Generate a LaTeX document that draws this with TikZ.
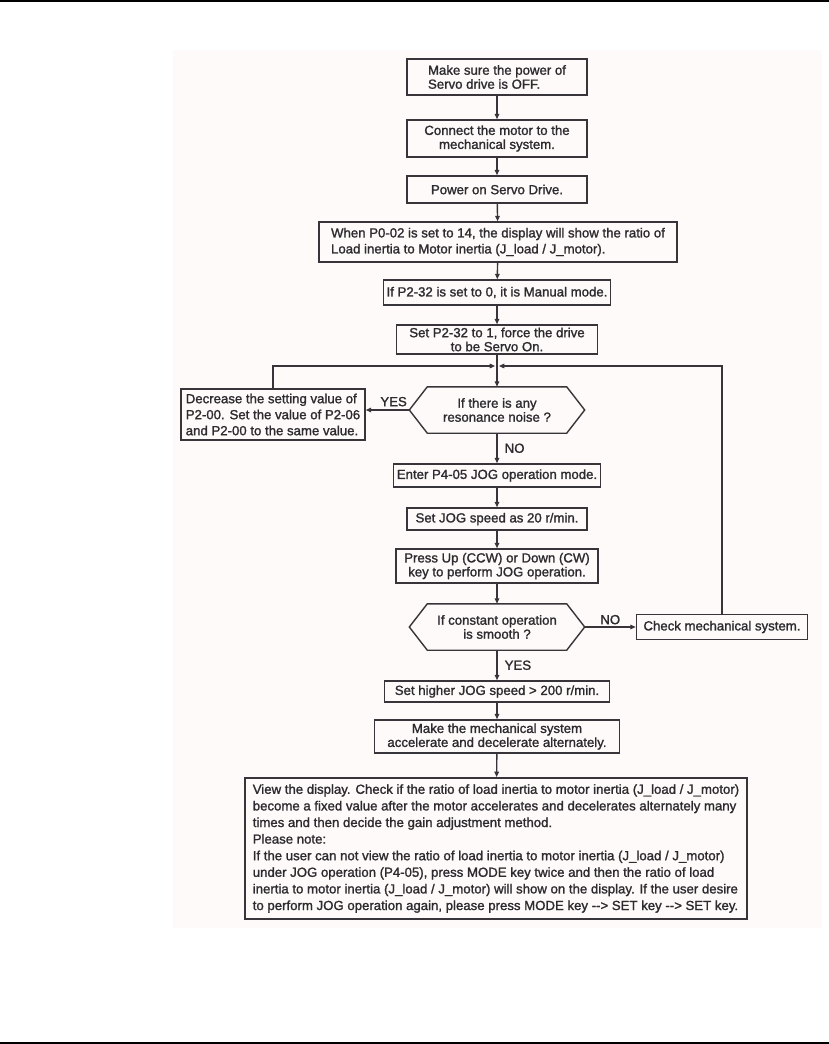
\documentclass[tikz,border=0pt]{standalone}
\usepackage{fontspec}
\setmainfont{Liberation Sans}[FakeBold=1.4]
\usetikzlibrary{arrows.meta}
\definecolor{ln}{RGB}{55,53,57}
\definecolor{tx}{RGB}{45,43,47}
\definecolor{bgp}{RGB}{253,250,249}
\begin{document}
\begin{tikzpicture}[x=1pt,y=-1pt,
  txt/.style={text=tx, font=\fontsize{13.2}{14}\selectfont},
  box/.style={txt, draw=ln, line width=1.4pt, inner sep=0pt, align=center},
  hexa/.style={txt, inner sep=0pt, align=center, minimum width=175, minimum height=46},
  hexline/.style={draw=ln, line width=1.4pt, line join=miter},
  arr/.style={draw=ln, line width=1.4pt, -{Triangle[length=5.5pt,width=4.5pt]}},
  lbl/.style={txt, inner sep=2pt}]
\useasboundingbox (0,0) rectangle (829,1044);
\fill[bgp] (173,50) rectangle (822,928);
\draw[line width=2pt] (0,1) -- (829,1);
\draw[line width=2pt] (0,1042.5) -- (829,1042.5);

% main column
\node[box, minimum width=180, minimum height=36, align=left] (b1) at (497,77) {Make sure the power of\\Servo drive is OFF.};
\node[box, minimum width=180, minimum height=37] (b2) at (497,138.5) {Connect the motor to the\\mechanical system.};
\node[box, minimum width=180, minimum height=27] (b3) at (497,189.5) {Power on Servo Drive.};
\node[box, minimum width=358, minimum height=40, align=left, font=\fontsize{13.2}{16}\selectfont] (b4) at (498,242) {When P0-02 is set to 14, the display will show the ratio of\\Load inertia to Motor inertia (J\_load / J\_motor).};
\node[box, minimum width=227, minimum height=25] (b5) at (497,292.5) {If P2-32 is set to 0, it is Manual mode.};
\node[box, minimum width=201, minimum height=29] (b6) at (497,339.5) {Set P2-32 to 1, force the drive\\to be Servo On.};
\coordinate (m) at (497,366);

\node[hexa] (d1) at (497,410) {If there is any\\resonance noise ?};
\draw[hexline] (d1.west) -- ([xshift=18]d1.north west) -- ([xshift=-18]d1.north east) -- (d1.east) -- ([xshift=-18]d1.south east) -- ([xshift=18]d1.south west) -- cycle;

\node[box, minimum width=184, minimum height=51, align=left, font=\fontsize{13.2}{16}\selectfont] (bl) at (273,414.5) {Decrease the setting value of\\P2-00. Set the value of P2-06\\and P2-00 to the same value.};

\node[box, minimum width=207, minimum height=23] (en) at (497,475.5) {Enter P4-05 JOG operation mode.};
\node[box, minimum width=180, minimum height=22] (sj) at (497,519) {Set JOG speed as 20 r/min.};
\node[box, minimum width=202, minimum height=34] (pu) at (497,566) {Press Up (CCW) or Down (CW)\\key to perform JOG operation.};

\node[hexa] (d2) at (497,627) {If constant operation\\is smooth ?};
\draw[hexline] (d2.west) -- ([xshift=18]d2.north west) -- ([xshift=-18]d2.north east) -- (d2.east) -- ([xshift=-18]d2.south east) -- ([xshift=18]d2.south west) -- cycle;

\node[box, minimum width=171, minimum height=25] (ck) at (722,627) {Check mechanical system.};

\node[box, minimum width=225, minimum height=21] (sh) at (497,691.5) {Set higher JOG speed > 200 r/min.};
\node[box, minimum width=245, minimum height=33] (mk) at (497,736.5) {Make the mechanical system\\accelerate and decelerate alternately.};

\node[box, line width=1.7pt, minimum width=502, minimum height=141, align=left, font=\fontsize{13.2}{16.6}\selectfont] (bb) at (496,848.5) {View the display. Check if the ratio of load inertia to motor inertia (J\_load / J\_motor)\\become a fixed value after the motor accelerates and decelerates alternately many\\times and then decide the gain adjustment method.\\Please note:\\If the user can not view the ratio of load inertia to motor inertia (J\_load / J\_motor)\\under JOG operation (P4-05), press MODE key twice and then the ratio of load\\inertia to motor inertia (J\_load / J\_motor) will show on the display. If the user desire\\to perform JOG operation again, please press MODE key -\kern0pt-> SET key -\kern0pt-> SET key.};

% connectors
\draw[arr] (b1) -- (b2);
\draw[arr] (b2) -- (b3);
\draw[arr] (b3) -- (b4);
\draw[arr] (b4) -- (b5);
\draw[arr] (b5) -- (b6);
\draw[arr] (b6) -- (d1.north);
\draw[arr, shorten >=1.8pt] (bl.north) |- (m);
\draw[arr, shorten >=1.8pt] (ck.north) |- (m);
\draw[arr] (d1.west) -- node[lbl, above, pos=0.36, yshift=1pt] (y1) {YES} (d1.west -| bl.east);
\draw[arr] (d1.south) -- node[lbl, right, xshift=5pt] (n1) {NO} (en.north);
\draw[arr] (en) -- (sj);
\draw[arr] (sj) -- (pu);
\draw[arr] (pu) -- (d2.north);
\draw[arr] (d2.east) -- node[lbl, above] (n2) {NO} (ck.west);
\draw[arr] (d2.south) -- node[lbl, right, xshift=5pt] (y2) {YES} (sh.north);
\draw[arr] (sh) -- (mk);
\draw[arr] (mk) -- (bb);
\end{tikzpicture}
\end{document}
